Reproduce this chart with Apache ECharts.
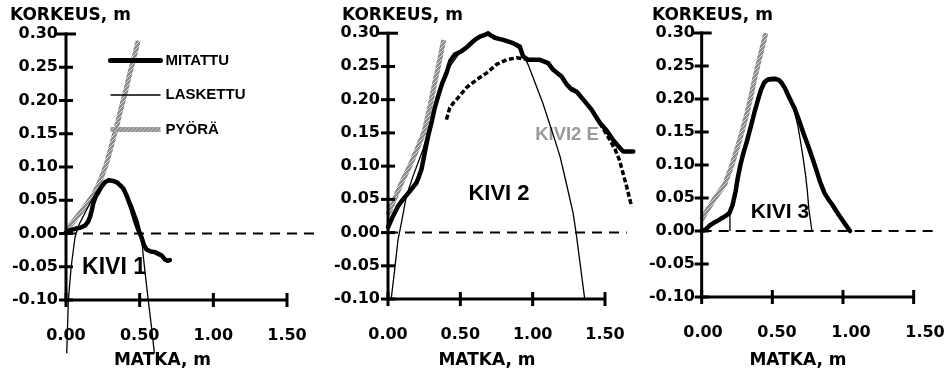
<!DOCTYPE html>
<html>
<head>
<meta charset="utf-8">
<script src="https://cdn.jsdelivr.net/npm/echarts/dist/echarts.min.js"></script>
<style>
html,body{margin:0;padding:0;background:#fff}
#chart{width:949px;height:372px}
</style>
</head>
<body>
<div id="chart"></div>
<script>
// Profile measurements of three stones: measured (MITATTU), computed (LASKETTU), wheel path (PYÖRÄ)
const kivi1Mitattu = [[0,0.002],[0.03,0.005],[0.061,0.007],[0.10,0.009],[0.129,0.012],[0.15,0.018],[0.163,0.025],[0.175,0.035],[0.185,0.045],[0.20,0.055],[0.219,0.062],[0.24,0.07],[0.264,0.077],[0.29,0.08],[0.32,0.079],[0.345,0.077],[0.37,0.072],[0.388,0.068],[0.41,0.058],[0.44,0.04],[0.468,0.02],[0.49,0.006],[0.513,-0.006],[0.53,-0.018],[0.547,-0.024],[0.575,-0.027],[0.603,-0.028],[0.63,-0.031],[0.649,-0.033],[0.671,-0.039],[0.69,-0.041],[0.705,-0.04]];
const kivi1Laskettu = [[0.005,-0.18],[0.016,-0.10],[0.035,-0.05],[0.061,-0.006],[0.085,0.012],[0.12,0.027],[0.15,0.04],[0.18,0.052],[0.21,0.063],[0.25,0.076],[0.29,0.081],[0.33,0.08],[0.37,0.073],[0.40,0.064],[0.45,0.042],[0.49,0.018],[0.51,0.0],[0.525,-0.035],[0.54,-0.065],[0.558,-0.10],[0.58,-0.14],[0.60,-0.18]];
const kivi1Pyora = [[0,0.005],[0.05,0.018],[0.10,0.032],[0.15,0.047],[0.19,0.06],[0.225,0.076],[0.25,0.09],[0.275,0.105],[0.30,0.125],[0.32,0.142],[0.343,0.16],[0.37,0.185],[0.40,0.21],[0.43,0.238],[0.46,0.263],[0.49,0.29]];

const kivi2Mitattu = [[0,0.008],[0.035,0.025],[0.07,0.04],[0.104,0.05],[0.15,0.062],[0.197,0.075],[0.215,0.085],[0.231,0.095],[0.254,0.12],[0.277,0.145],[0.30,0.165],[0.32,0.185],[0.346,0.205],[0.375,0.225],[0.404,0.24],[0.43,0.258],[0.462,0.268],[0.508,0.273],[0.54,0.278],[0.565,0.283],[0.60,0.29],[0.635,0.295],[0.665,0.297],[0.692,0.30],[0.715,0.296],[0.738,0.293],[0.796,0.29],[0.865,0.285],[0.911,0.28],[0.934,0.265],[0.969,0.26],[1.05,0.26],[1.107,0.255],[1.142,0.245],[1.2,0.235],[1.235,0.223],[1.27,0.215],[1.304,0.212],[1.35,0.20],[1.407,0.185],[1.465,0.165],[1.51,0.154],[1.557,0.139],[1.60,0.128],[1.626,0.122],[1.695,0.122]];
const kivi2Laskettu = [[0.022,-0.10],[0.046,-0.056],[0.069,-0.011],[0.093,0.015],[0.127,0.055],[0.173,0.085],[0.242,0.125],[0.30,0.172],[0.36,0.215],[0.42,0.248],[0.50,0.272],[0.58,0.287],[0.65,0.297],[0.70,0.30],[0.76,0.294],[0.84,0.287],[0.90,0.278],[0.934,0.268],[0.97,0.252],[1.0,0.235],[1.035,0.215],[1.07,0.195],[1.10,0.175],[1.13,0.155],[1.16,0.135],[1.19,0.114],[1.235,0.072],[1.28,0.029],[1.30,0.0],[1.33,-0.05],[1.36,-0.10]];
const kivi2Pyora = [[0,0.027],[0.05,0.053],[0.10,0.078],[0.15,0.10],[0.20,0.125],[0.25,0.152],[0.29,0.19],[0.32,0.222],[0.35,0.252],[0.385,0.29]];
const kivi2E = [[0.404,0.17],[0.427,0.188],[0.455,0.196],[0.485,0.203],[0.542,0.218],[0.612,0.23],[0.681,0.24],[0.75,0.253],[0.82,0.26],[0.888,0.263],[0.958,0.261],[1.05,0.26],[1.107,0.255],[1.142,0.245],[1.2,0.235],[1.235,0.223],[1.304,0.212],[1.35,0.20],[1.407,0.185],[1.465,0.165],[1.534,0.139],[1.57,0.125],[1.60,0.109],[1.63,0.085],[1.65,0.069],[1.684,0.039]];

const kivi3Mitattu = [[0,0],[0.027,0.002],[0.055,0.008],[0.083,0.012],[0.11,0.015],[0.139,0.019],[0.17,0.023],[0.196,0.027],[0.218,0.039],[0.24,0.06],[0.255,0.08],[0.274,0.10],[0.295,0.118],[0.319,0.135],[0.35,0.16],[0.375,0.181],[0.40,0.20],[0.42,0.214],[0.443,0.225],[0.466,0.229],[0.50,0.23],[0.522,0.23],[0.545,0.229],[0.567,0.224],[0.59,0.216],[0.611,0.206],[0.634,0.196],[0.657,0.186],[0.69,0.167],[0.724,0.146],[0.76,0.125],[0.792,0.105],[0.815,0.09],[0.837,0.075],[0.87,0.057],[0.90,0.047],[0.927,0.039],[0.95,0.031],[0.972,0.024],[1.01,0.012],[1.05,0]];
const kivi3Laskettu = [[0.20,0],[0.20,0.029],[0.218,0.045],[0.24,0.065],[0.255,0.085],[0.274,0.105],[0.30,0.125],[0.319,0.14],[0.35,0.165],[0.375,0.186],[0.40,0.204],[0.42,0.217],[0.443,0.228],[0.466,0.232],[0.50,0.233],[0.522,0.233],[0.545,0.231],[0.567,0.226],[0.59,0.217],[0.611,0.207],[0.634,0.196],[0.656,0.181],[0.68,0.16],[0.70,0.135],[0.72,0.108],[0.735,0.085],[0.748,0.06],[0.758,0.034],[0.78,0]];
const kivi3Pyora = [[0,0.017],[0.047,0.034],[0.094,0.05],[0.162,0.07],[0.21,0.097],[0.252,0.126],[0.285,0.15],[0.319,0.177],[0.35,0.205],[0.375,0.231],[0.41,0.262],[0.454,0.30]];

// Ground level reference lines (y = 0)
const zeroLine1 = [[0,0],[1.70,0]];
const zeroLine2 = [[0,0],[1.65,0]];
const zeroLine3 = [[0,0],[1.65,0]];

// Axis ranges and tick values
const xTicks = {min: 0, max: 1.5, interval: 0.5};
const yTicks = {min: -0.1, max: 0.3, interval: 0.05};
const xTickValues = [0, 0.5, 1.0, 1.5];
const yTickValues = [-0.1, -0.05, 0, 0.05, 0.1, 0.15, 0.2, 0.25, 0.3];
// Plotting range: curves run past the drawn axes, and the axis frame sits inside it
const plotRange = {xMin: -0.2, xMax: 1.75, yMin: -0.2, yMax: 0.35};

const legendNames = ['MITATTU', 'LASKETTU', 'PYÖRÄ'];

const panels = [
  {box: {left: 66, top: 34, width: 221, height: 266}, mit: kivi1Mitattu, las: kivi1Laskettu, pyo: kivi1Pyora, zero: zeroLine1},
  {box: {left: 388, top: 33, width: 217, height: 266}, mit: kivi2Mitattu, las: kivi2Laskettu, pyo: kivi2Pyora, zero: zeroLine2, extra: kivi2E},
  {box: {left: 703, top: 33, width: 222, height: 264}, mit: kivi3Mitattu, las: kivi3Laskettu, pyo: kivi3Pyora, zero: zeroLine3}
];

const tickFont = 'DejaVu Sans';
const black = '#000';

function hatchPattern() {
  const c = document.createElement('canvas');
  c.width = 4; c.height = 4;
  const g = c.getContext('2d');
  g.fillStyle = '#8a8a8a'; g.fillRect(0, 0, 4, 4);
  g.fillStyle = '#dcdcdc';
  g.fillRect(0, 0, 1, 1); g.fillRect(2, 2, 1, 1); g.fillRect(1, 3, 1, 1); g.fillRect(3, 1, 1, 1);
  return c;
}
const greyHatch = {image: hatchPattern(), repeat: 'repeat'};

const grids = [], xAxes = [], yAxes = [], series = [];
const fmt = v => v.toFixed(2);

panels.forEach((p, i) => {
  const b = p.box;
  const gAxes = 2 * i, gData = 2 * i + 1;
  grids.push({left: b.left, top: b.top, width: b.width, height: b.height, containLabel: false});
  const xScale = b.width / (xTicks.max - xTicks.min);
  const yScale = b.height / (yTicks.max - yTicks.min);
  grids.push({
    left: b.left - xScale * (xTicks.min - plotRange.xMin),
    top: b.top - yScale * (plotRange.yMax - yTicks.max),
    width: xScale * (plotRange.xMax - plotRange.xMin),
    height: yScale * (plotRange.yMax - plotRange.yMin), containLabel: false});

  // label axes
  xAxes.push({gridIndex: gAxes, type: 'value', min: xTicks.min, max: xTicks.max, interval: xTicks.interval,
    position: 'bottom', splitLine: {show: false},
    axisLine: {show: false, onZero: false}, axisTick: {show: false},
    axisLabel: {show: true, margin: 28, color: black, fontFamily: tickFont, fontWeight: 'bold', fontSize: 16, formatter: fmt}});
  yAxes.push({gridIndex: gAxes, type: 'value', min: yTicks.min, max: yTicks.max, interval: yTicks.interval,
    position: 'left', splitLine: {show: false},
    axisLine: {show: false, onZero: false}, axisTick: {show: false},
    axisLabel: {show: true, margin: 8, color: black, fontFamily: tickFont, fontWeight: 'bold', fontSize: 16, formatter: fmt}});
  // plotting axes
  xAxes.push({gridIndex: gData, type: 'value', min: plotRange.xMin, max: plotRange.xMax, show: false});
  yAxes.push({gridIndex: gData, type: 'value', min: plotRange.yMin, max: plotRange.yMax, show: false});

  const ax = {xAxisIndex: 2 * i + 1, yAxisIndex: 2 * i + 1};
  const base = Object.assign({type: 'line', symbol: 'none', showSymbol: false,
    clip: false, animation: false, silent: true}, ax);

  // bottom axis line
  series.push(Object.assign({}, base, {name: 'xaxis' + i,
    data: [[xTicks.min, yTicks.min], [xTicks.max, yTicks.min]], lineStyle: {color: black, width: 3}, z: 6}));

  series.push(Object.assign({}, base, {name: 'zero' + i, data: p.zero,
    lineStyle: {color: black, width: 2, type: [10, 7]}, z: 1}));
  series.push(Object.assign({}, base, {name: 'PYÖRÄ', data: p.pyo,
    lineStyle: {color: greyHatch, width: 5}, z: 2}));
  if (p.extra) {
    series.push(Object.assign({}, base, {name: 'KIVI2 E', data: p.extra,
      lineStyle: {color: black, width: 3.5, type: [5, 2.5]}, z: 3}));
  }
  series.push(Object.assign({}, base, {name: 'LASKETTU', data: p.las,
    lineStyle: {color: black, width: 1.3}, z: 4}));
  series.push(Object.assign({}, base, {name: 'MITATTU', data: p.mit,
    lineStyle: {color: black, width: 4.5, join: 'round', cap: 'round'}, z: 5}));
});

function label(text, x, y, font, align, fill) {
  return {type: 'text', x: x, y: y, silent: true,
    style: {text: text, fill: fill || black, font: font, align: align, verticalAlign: 'middle'}};
}
const titleFont = 'bold 17px "DejaVu Sans"';
const kiviFont = sz => 'bold ' + sz + 'px "Liberation Sans", Arial, sans-serif';

const texts = [
  label('KORKEUS, m', 10, 16, titleFont, 'left'),
  label('KORKEUS, m', 342, 16, titleFont, 'left'),
  label('KORKEUS, m', 652, 16, titleFont, 'left'),
  label('MATKA, m', 162.5, 361, titleFont, 'center'),
  label('MATKA, m', 487, 361, titleFont, 'center'),
  label('MATKA, m', 798, 361, titleFont, 'center'),
  label('KIVI 1', 114, 268, kiviFont(23), 'center'),
  label('KIVI 2', 499, 194, kiviFont(22), 'center'),
  label('KIVI 3', 780, 212, kiviFont(21), 'center'),
  label('KIVI2 E', 567, 135, kiviFont(18.5), 'center', '#9a9a9a')
];

const legendWidths = [5, 1.5, 5];

const chart = echarts.init(document.getElementById('chart'), null, {renderer: 'canvas'});
chart.setOption({
  backgroundColor: '#fff',
  animation: false,
  grid: grids,
  xAxis: xAxes,
  yAxis: yAxes,
  legend: {
    data: legendNames.map((n, k) => ({name: n, lineStyle: {width: legendWidths[k]}, itemStyle: {opacity: 0}})),
    orient: 'vertical', left: 108, top: 53, padding: 0,
    itemWidth: 50, itemHeight: 14, itemGap: 19.5, selectedMode: false,
    itemStyle: {opacity: 0},
    textStyle: {fontFamily: '"Liberation Sans", Arial, sans-serif', fontWeight: 'bold', fontSize: 15, color: black}
  },
  series: series,
  graphic: texts
});

// Left axis line and crossing tick marks, placed through each panel's scales
function bar(x, y, w, h) {
  return {type: 'rect', silent: true, z: 100, zlevel: 1,
    shape: {x: x, y: y, width: w, height: h}, style: {fill: black}};
}
const frame = [];
panels.forEach((p, i) => {
  const finder = {xAxisIndex: 2 * i + 1, yAxisIndex: 2 * i + 1};
  const bottom = chart.convertToPixel(finder, [xTicks.min, yTicks.min]);
  const top = chart.convertToPixel(finder, [xTicks.min, yTicks.max]);
  frame.push(bar(bottom[0] - 1.5, top[1] - 1.5, 3, bottom[1] - top[1] + 3));
  yTickValues.forEach((v, k) => {
    const pt = chart.convertToPixel(finder, [xTicks.min, v]);
    const w = k === yTickValues.length - 1 ? 20 : 14;
    frame.push(bar(pt[0] - w / 2, pt[1] - 1.5, w, 3));
  });
  xTickValues.forEach(v => {
    const pt = chart.convertToPixel(finder, [v, yTicks.min]);
    frame.push(bar(pt[0] - 1.5, pt[1] - 7, 3, 14));
  });
});
chart.setOption({graphic: texts.concat(frame)});
</script>
</body>
</html>
